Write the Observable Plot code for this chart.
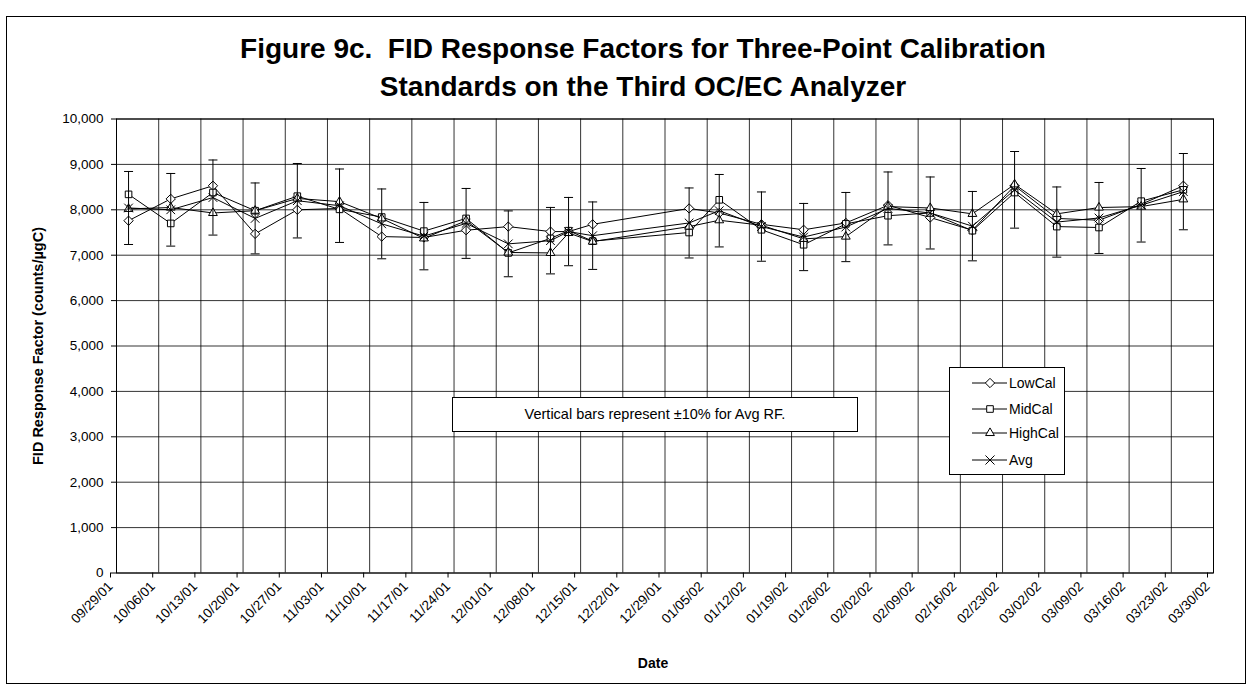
<!DOCTYPE html>
<html>
<head>
<meta charset="utf-8">
<script src="https://cdn.jsdelivr.net/npm/d3@7"></script>
<script src="https://cdn.jsdelivr.net/npm/@observablehq/plot@0.6"></script>
<style>
  html, body { margin: 0; padding: 0; background: #fff; }
  #chart {
    position: relative; width: 1252px; height: 689px; background: #fff;
    font-family: "Liberation Sans", Arial, Helvetica, sans-serif; color: #000;
  }
  #border {
    position: absolute; left: 6px; top: 16px; width: 1240px; height: 668px;
    border: 1px solid #000; box-sizing: border-box; pointer-events: none;
  }
  #title {
    position: absolute; left: 17px; top: 30px; width: 1252px; text-align: center;
    font-size: 28px; font-weight: bold; line-height: 38px;
  }
  #note {
    position: absolute; left: 452px; top: 397px; width: 406px; height: 35px;
    box-sizing: border-box; border: 1px solid #000; background: #fff;
    font-size: 14.5px; line-height: 33px; text-align: center;
  }
  #legend {
    position: absolute; left: 949px; top: 367px; width: 116px; height: 108px;
    box-sizing: border-box; border: 1px solid #000; background: #fff;
  }
  #legend svg { position: absolute; left: 0; top: 0; }
  #plot { position: absolute; left: 0; top: 0; }
</style>
</head>
<body>
<div id="chart">
  <div id="plot"></div>
  <div id="border"></div>
  <div id="title">Figure 9c.&nbsp; FID Response Factors for Three-Point Calibration<br>Standards on the Third OC/EC Analyzer</div>
  <div id="note">Vertical bars represent ±10% for Avg RF.</div>
  <div id="legend"></div>
</div>
<script>
// Weekly date ticks along the x axis
const dateTicks = ["09/29/01","10/06/01","10/13/01","10/20/01","10/27/01","11/03/01","11/10/01",
  "11/17/01","11/24/01","12/01/01","12/08/01","12/15/01","12/22/01","12/29/01","01/05/02",
  "01/12/02","01/19/02","01/26/02","02/02/02","02/09/02","02/16/02","02/23/02","03/02/02",
  "03/09/02","03/16/02","03/23/02","03/30/02"];
const yTicks = [0, 1000, 2000, 3000, 4000, 5000, 6000, 7000, 8000, 9000, 10000];

// Calibration run dates
const runDates = ["10/01/01","10/08/01","10/15/01","10/22/01","10/29/01","11/05/01","11/12/01",
  "11/19/01","11/26/01","12/03/01","12/10/01","12/13/01","12/17/01","01/02/02","01/07/02",
  "01/14/02","01/21/02","01/28/02","02/04/02","02/11/02","02/18/02","02/25/02","03/04/02",
  "03/11/02","03/18/02","03/25/02"];

// Response factors (counts/µgC)
const lowCal  = [7760, 8240, 8530, 7470, 8000, 8030, 7410, 7390, 7550, 7630, 7520, 7520, 7680,
                 8030, 7930, 7680, 7560, 7710, 8100, 7830, 7550, 8530, 7810, 7770, 8120, 8530];
const midCal  = [8340, 7700, 8380, 7980, 8300, 8010, 7840, 7530, 7810, 7050, 7370, 7540, 7310,
                 7500, 8220, 7560, 7230, 7690, 7870, 7930, 7540, 8380, 7630, 7610, 8190, 8440];
const highCal = [8020, 8050, 7930, 7980, 8250, 8180, 7810, 7370, 7760, 7060, 7050, 7490, 7300,
                 7630, 7770, 7660, 7360, 7410, 8070, 8040, 7910, 8560, 7910, 8050, 8070, 8230];
const avgRF   = [8040, 8000, 8270, 7810, 8200, 8090, 7690, 7420, 7700, 7250, 7320, 7520, 7430,
                 7710, 7980, 7630, 7400, 7620, 8030, 7930, 7640, 8440, 7730, 7820, 8100, 8400];

const seriesNames = ["LowCal", "MidCal", "HighCal", "Avg"];
const seriesSymbols = ["diamond2", "square2", "triangle2", "times"];

const parseDate = d3.utcParse("%m/%d/%y");
const tickDates = dateTicks.map(parseDate);
const rows = runDates.map((d, i) => ({
  date: parseDate(d), LowCal: lowCal[i], MidCal: midCal[i], HighCal: highCal[i], Avg: avgRF[i]
}));

// Short horizontal stroke used as the cap of each error bar
const capSymbol = {
  draw(context, size) {
    const r = Math.sqrt(size / Math.PI);
    context.moveTo(-r, 0);
    context.lineTo(r, 0);
  }
};

const seriesMarks = seriesNames.flatMap((name, i) => {
  const marks = [Plot.lineY(rows, {x: "date", y: name, stroke: "#000", strokeWidth: 1})];
  if (name === "Avg") {
    marks.push(
      Plot.ruleX(rows, {x: "date", y1: d => d.Avg * 0.9, y2: d => d.Avg * 1.1, stroke: "#000", strokeWidth: 1}),
      Plot.dot(rows, {x: "date", y: d => d.Avg * 0.9, symbol: capSymbol, r: 4.5, stroke: "#000", strokeWidth: 1}),
      Plot.dot(rows, {x: "date", y: d => d.Avg * 1.1, symbol: capSymbol, r: 4.5, stroke: "#000", strokeWidth: 1})
    );
  }
  marks.push(Plot.dot(rows, {
    x: "date", y: name, symbol: seriesSymbols[i],
    r: name === "Avg" ? 4 : 4.2, stroke: "#000", strokeWidth: 1,
    fill: name === "Avg" ? "none" : "#fff"
  }));
  return marks;
});

const chart = Plot.plot({
  width: 1252,
  height: 689,
  marginTop: 118.5,
  marginBottom: 116.5,
  marginLeft: 116,
  marginRight: 39,
  style: {fontFamily: "'Liberation Sans', Arial, Helvetica, sans-serif", fontSize: "13.5px", background: "transparent", color: "#000"},
  x: {type: "utc", domain: [tickDates[0], tickDates[tickDates.length - 1]]},
  y: {domain: [0, 10000]},
  marks: [
    Plot.gridX({ticks: tickDates, stroke: "#000", strokeOpacity: 0.8, strokeWidth: 1}),
    Plot.gridY({ticks: yTicks, stroke: "#000", strokeOpacity: 0.8, strokeWidth: 1}),
    Plot.frame({stroke: "#000", strokeWidth: 1}),
    Plot.axisY({ticks: yTicks, tickFormat: d3.format(","), tickSize: 5, tickPadding: 8, label: null, fontSize: 13.5}),
    Plot.axisX({ticks: tickDates, tickFormat: d3.utcFormat("%m/%d/%y"), tickRotate: -45, tickSize: 5,
      tickPadding: 6, label: null, fontSize: 13.5, dx: -6}),
    Plot.text(["FID Response Factor (counts/µgC)"], {frameAnchor: "left", dx: -78, rotate: -90,
      fontWeight: "bold", fontSize: 14.5, textAnchor: "middle"}),
    Plot.text(["Date"], {frameAnchor: "bottom", dy: 95, dx: -12, fontWeight: "bold", fontSize: 14}),
    ...seriesMarks
  ]
});
document.getElementById("plot").appendChild(chart);

// Legend: line sample with marker, then series name
const legend = d3.select("#legend").append("svg").attr("width", 116).attr("height", 108);
const rowY = [15, 41, 65, 92];
const typeMap = {diamond2: d3.symbolDiamond2, square2: d3.symbolSquare2, triangle2: d3.symbolTriangle2, times: d3.symbolTimes};
seriesNames.forEach((name, i) => {
  const g = legend.append("g").attr("transform", `translate(0,${rowY[i]})`);
  g.append("line").attr("x1", 22).attr("x2", 57).attr("y1", 0).attr("y2", 0).attr("stroke", "#000");
  g.append("path")
    .attr("transform", "translate(40,0)")
    .attr("d", d3.symbol(typeMap[seriesSymbols[i]], Math.PI * 4.2 * 4.2)())
    .attr("fill", seriesSymbols[i] === "times" ? "none" : "#fff")
    .attr("stroke", "#000");
  g.append("text").attr("x", 59).attr("y", 0).attr("dy", "0.35em")
    .attr("font-family", "'Liberation Sans', Arial, sans-serif").attr("font-size", 14)
    .text(name);
});
</script>
</body>
</html>
